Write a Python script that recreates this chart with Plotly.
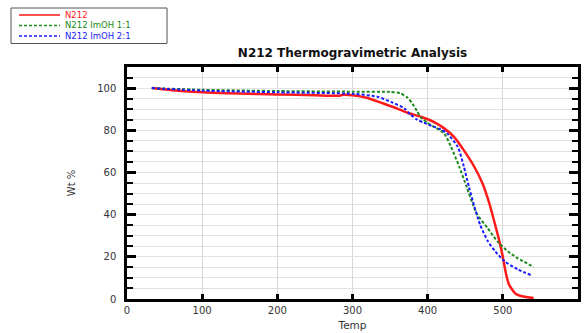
import plotly.graph_objects as go

temp_n212 = [33, 60, 100, 150, 200, 250, 283, 287, 300, 320, 341, 359, 373, 391, 408, 422, 435, 448, 462, 473, 482, 491, 495, 500, 504, 508, 511, 517, 524, 533, 541]
wt_n212 = [100, 99, 98, 97.4, 97.0, 96.6, 96.4, 96.8, 96.6, 95.3, 92.7, 90.4, 88.3, 86.4, 84, 80.9, 76.9, 70.6, 62.7, 54.8, 45.4, 33.5, 28, 20, 12.3, 7, 5.2, 2.5, 1.4, 0.8, 0.5]

temp_1to1 = [33, 100, 200, 300, 350, 364, 373, 380, 386, 391, 400, 408, 422, 431, 442, 452, 460, 466, 480, 493, 507, 520, 541]
wt_1to1 = [100, 99.2, 98.6, 98.3, 98.2, 97.5, 95.5, 92.5, 89, 86, 83.5, 81.7, 78.5, 72.2, 62.7, 53, 45, 40, 33.5, 27.2, 22.5, 19.3, 15.2]

temp_2to1 = [33, 100, 200, 300, 333, 351, 369, 377, 386, 395, 408, 417, 426, 440, 448, 455, 462, 470, 480, 490, 503, 520, 537]
wt_2to1 = [100, 98.8, 98, 97.3, 95.9, 93.5, 90.4, 87.5, 85, 83.6, 81.7, 80.5, 78.5, 72.2, 63, 53, 44, 35, 27.5, 22.5, 17.7, 14, 11.4]

series_names = ["N212", "N212 ImOH 1:1", "N212 ImOH 2:1"]
series_colors = ["#ff1a1a", "#1a8a1a", "#1a1aff"]
series_dash = ["solid", "3px,2px", "3px,2px"]
series_width = [2.5, 2, 2]

font = "DejaVu Sans, Verdana, sans-serif"

# plot area in pixels
L, R, T, B = 127, 578, 67, 299
W_, H_ = 587, 333


def px2paper_x(px):
    return (px - L) / (R - L)


def px2paper_y(py):
    return (B - py) / (B - T)


fig = go.Figure()
data = [(temp_n212, wt_n212), (temp_1to1, wt_1to1), (temp_2to1, wt_2to1)]
for (xs, ys), name, col, dash, w in zip(data, series_names, series_colors, series_dash, series_width):
    fig.add_trace(go.Scatter(x=xs, y=ys, mode="lines", name=name,
                             line=dict(color=col, width=w, dash=dash, shape="spline", smoothing=0.6),
                             showlegend=False))

# compact legend box (drawn manually to match the reference's tight rows)
shapes = [dict(type="rect", xref="paper", yref="paper",
               x0=px2paper_x(11), x1=px2paper_x(167), y0=px2paper_y(8), y1=px2paper_y(43.5),
               line=dict(color="#555", width=1), fillcolor="white", layer="above")]
annotations = []
row_y = [15, 25.5, 36]
for name, col, dash, w, ry in zip(series_names, series_colors, series_dash, series_width, row_y):
    shapes.append(dict(type="line", xref="paper", yref="paper",
                       x0=px2paper_x(19), x1=px2paper_x(60), y0=px2paper_y(ry), y1=px2paper_y(ry),
                       line=dict(color=col, width=1.5, dash=dash), layer="above"))
    annotations.append(dict(xref="paper", yref="paper", x=px2paper_x(64), y=px2paper_y(ry),
                            xanchor="left", yanchor="middle", text=name, showarrow=False,
                            borderpad=0, font=dict(family=font, size=8.5, color=col)))

fig.update_layout(
    width=W_, height=H_,
    margin=dict(l=L, r=W_ - R, t=T, b=H_ - B, autoexpand=False),
    paper_bgcolor="white", plot_bgcolor="white",
    font=dict(family=font, size=10, color="#333"),
    title=dict(text="<b>N212 Thermogravimetric Analysis</b>", x=352.5 / W_, xanchor="center",
               y=1 - 53 / H_, yanchor="middle", font=dict(family=font, size=12, color="#111")),
    showlegend=False,
    shapes=shapes,
    annotations=annotations,
)
fig.update_xaxes(range=[0, 600], dtick=100, tick0=0, showgrid=True, gridcolor="#d8d8d8", gridwidth=1,
                 showline=True, linecolor="black", linewidth=2.5, mirror="ticks",
                 ticks="inside", ticklen=5, tickwidth=3, tickcolor="black", zeroline=False,
                 tickfont=dict(size=10, color="#333"),
                 title=dict(text="Temp", standoff=7, font=dict(size=10.5, color="#333")))
fig.update_yaxes(range=[0, 110], dtick=20, tick0=0, showgrid=True, gridcolor="#e2e2e2", gridwidth=1,
                 showline=True, linecolor="black", linewidth=2.5, mirror="ticks",
                 ticks="inside", ticklen=9, tickwidth=2.5, tickcolor="black", zeroline=False,
                 minor=dict(dtick=5, tick0=0, ticks="inside", ticklen=6, tickwidth=2, tickcolor="black",
                            showgrid=True, gridcolor="#e2e2e2", gridwidth=1),
                 ticklabelstandoff=6, tickfont=dict(size=10, color="#333"),
                 title=dict(text="Wt %", standoff=20, font=dict(size=10, color="#333")))

fig.write_html("out.html", config={"displayModeBar": False},
               post_script="document.body.style.margin='0';document.body.style.overflow='hidden';")
